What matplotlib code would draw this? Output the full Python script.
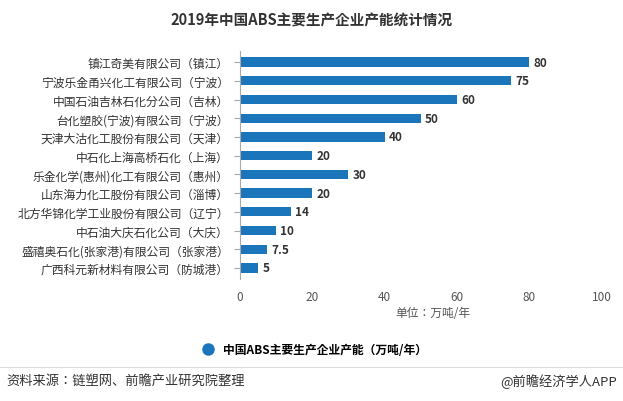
import matplotlib
matplotlib.use("Agg")
import matplotlib.pyplot as plt
from matplotlib import font_manager as fm
from matplotlib.lines import Line2D

cands = [f for f in fm.findSystemFonts() if "cjk" in f.lower()]
fam = None
for f in cands:
    try:
        fm.fontManager.addfont(f)
        name = fm.FontProperties(fname=f).get_name()
        if "Serif" in name:
            continue
        if fam is None or name == "Noto Sans CJK SC":
            fam = name
    except Exception:
        pass
plt.rcParams['font.family'] = [fam or 'Noto Sans CJK SC', 'DejaVu Sans']

companies = ["镇江奇美有限公司（镇江）","宁波乐金甬兴化工有限公司（宁波）","中国石油吉林石化分公司（吉林）",
 "台化塑胶(宁波)有限公司（宁波）","天津大沽化工股份有限公司（天津）","中石化上海高桥石化（上海）",
 "乐金化学(惠州)化工有限公司（惠州）","山东海力化工股份有限公司（淄博）","北方华锦化学工业股份有限公司（辽宁）",
 "中石油大庆石化公司（大庆）","盛禧奥石化(张家港)有限公司（张家港）","广西科元新材料有限公司（防城港）"]
values = [80, 75, 60, 50, 40, 20, 30, 20, 14, 10, 7.5, 5]
labels = ["80","75","60","50","40","20","30","20","14","10","7.5","5"]
xticks = [0, 20, 40, 60, 80, 100]

color = "#1a75bb"
fig = plt.figure(figsize=(6.23, 4.02), dpi=100)
ax = fig.add_axes([0.385, 0.303, 0.581, 0.568])
y = list(range(len(companies)))
ax.barh(y, values, height=0.5, color=color)
ax.set_yticks(y)
ax.set_yticklabels(companies, fontsize=8.5, color="#333333")
ax.set_ylim(len(companies)-0.4, -0.6)
ax.set_xlim(0, 100)
ax.set_xticks(xticks)
ax.set_xticklabels([str(t) for t in xticks], fontsize=8.5, color="#555555")
for yi, v, l in zip(y, values, labels):
    ax.text(v + 1.2, yi, l, va="center", ha="left", fontsize=8.5, fontweight="bold", color="#333333")
for s in ["top", "right", "bottom"]:
    ax.spines[s].set_visible(False)
ax.spines["left"].set_color("#aaaaaa")
ax.tick_params(axis="y", length=4, color="#aaaaaa", pad=4)
ax.tick_params(axis="x", length=0, pad=8)
fig.text(0.5, 0.95, "2019年中国ABS主要生产企业产能统计情况", ha="center", va="center", fontsize=10.5, fontweight="bold", color="#333333")
fig.text(0.695, 0.22, "单位：万吨/年", ha="center", va="center", fontsize=8.5, color="#555555")
fig.legend(handles=[Line2D([], [], marker="o", linestyle="none", markersize=8, color=color)],
           labels=["中国ABS主要生产企业产能（万吨/年）"], loc="center", bbox_to_anchor=(0.5, 0.128),
           frameon=False, prop={"size": 8.5, "weight": "bold"}, handletextpad=0.3)
fig.add_artist(Line2D([0.0, 1.0], [0.085, 0.085], color="#dddddd", lw=0.8))
fig.text(0.01, 0.05, "资料来源：链塑网、前瞻产业研究院整理", ha="left", va="center", fontsize=9.5, color="#333333")
fig.text(0.99, 0.05, "@前瞻经济学人APP", ha="right", va="center", fontsize=9.5, color="#333333")
fig.savefig("out.png", dpi=100, facecolor="white")
